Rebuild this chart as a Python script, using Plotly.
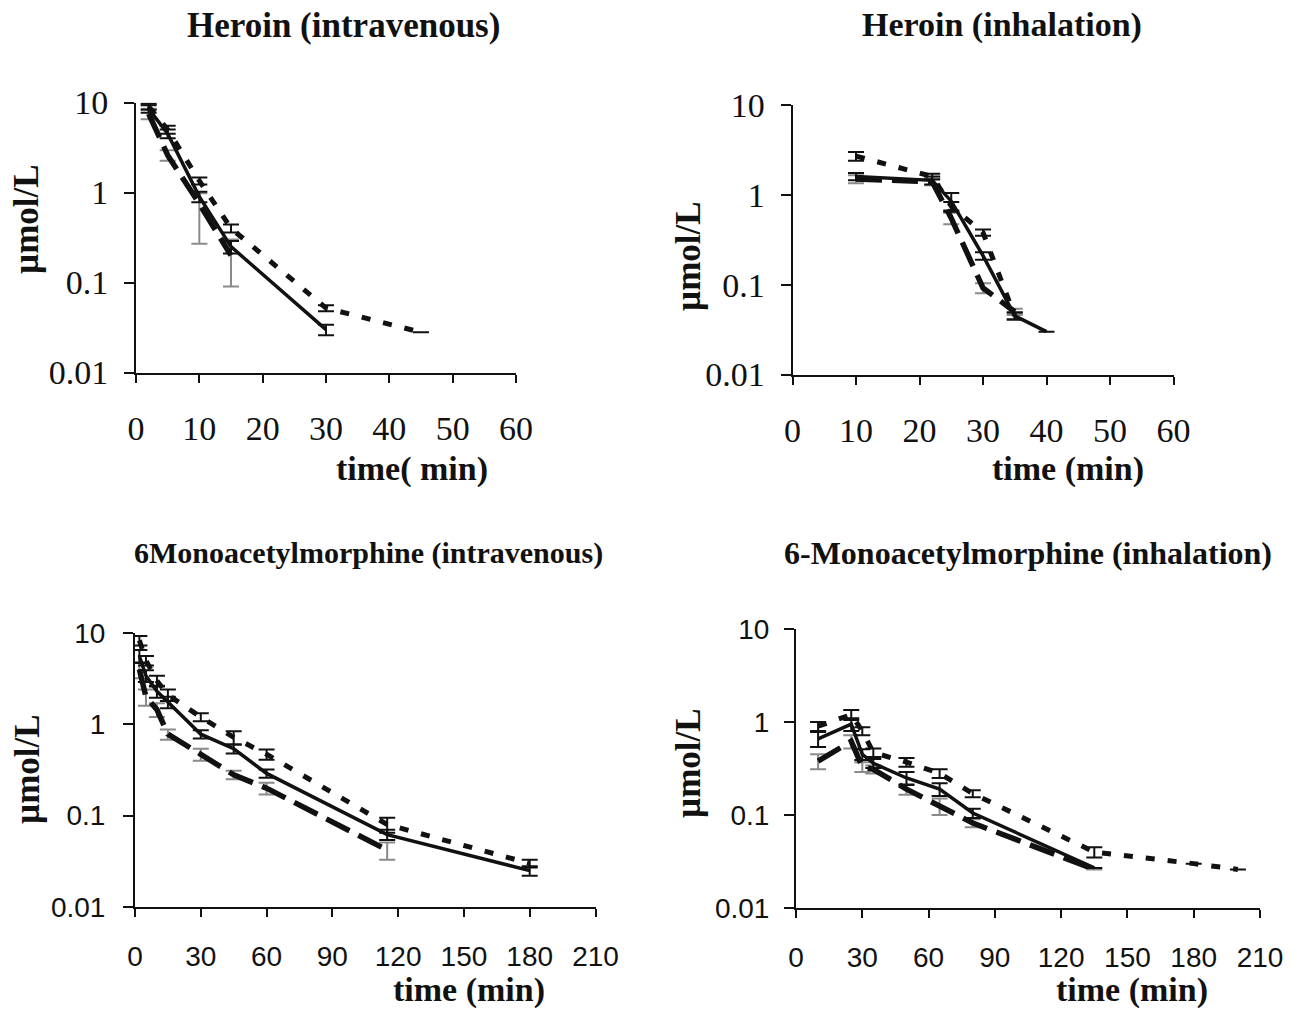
import plotly.graph_objects as go

W, H = 1299, 1013          # browser window == figure size

# ---------------- data ----------------
# Heroin (intravenous)
t_h_iv_solid = [2, 5, 10, 15, 30]
c_h_iv_solid = [8.5, 4.5, 0.9, 0.25, 0.030]
e_h_iv_solid = [0.8, 0.5, 0.12, 0.04, 0.004]

t_h_iv_dash = [2, 5, 10, 15]
c_h_iv_dash = [7.5, 2.6, 0.75, 0.20]
ep_h_iv_dash = [1.0, 0.35, 0.23, 0.10]
em_h_iv_dash = [1.0, 0.35, 0.48, 0.11]

t_h_iv_dot = [2, 5, 10, 15, 30, 45]
c_h_iv_dot = [9.0, 5.0, 1.35, 0.40, 0.052, 0.028]
e_h_iv_dot = [0.7, 0.5, 0.12, 0.04, 0.004, 0.0]

# Heroin (inhalation)
t_h_in_solid = [10, 22, 25, 30, 35, 40]
c_h_in_solid = [1.6, 1.45, 0.85, 0.21, 0.045, 0.030]
e_h_in_solid = [0.15, 0.15, 0.2, 0.02, 0.004, 0.0]

t_h_in_dash = [10, 22, 25, 30, 35]
c_h_in_dash = [1.5, 1.4, 0.55, 0.092, 0.050]
e_h_in_dash = [0.15, 0.12, 0.08, 0.012, 0.004]

t_h_in_dot = [10, 22, 25, 30, 35]
c_h_in_dot = [2.7, 1.6, 0.75, 0.38, 0.045]
e_h_in_dot = [0.3, 0.12, 0.08, 0.03, 0.004]

# 6-Monoacetylmorphine (intravenous)
t_m_iv_solid = [2, 5, 10, 15, 30, 45, 60, 115, 180]
c_m_iv_solid = [5.6, 3.4, 2.3, 1.75, 0.78, 0.54, 0.29, 0.062, 0.025]
e_m_iv_solid = [0.9, 0.5, 0.35, 0.25, 0.08, 0.06, 0.03, 0.008, 0.003]

t_m_iv_dash = [2, 5, 10, 15, 30, 45, 60, 115]
c_m_iv_dash = [4.0, 2.0, 1.45, 0.78, 0.47, 0.28, 0.20, 0.042]
e_m_iv_dash = [0.8, 0.4, 0.25, 0.1, 0.07, 0.03, 0.03, 0.009]

t_m_iv_dot = [2, 5, 10, 15, 30, 45, 60, 115, 180]
c_m_iv_dot = [8.3, 5.0, 3.0, 2.1, 1.2, 0.72, 0.47, 0.080, 0.030]
e_m_iv_dot = [1.0, 0.6, 0.4, 0.3, 0.12, 0.12, 0.06, 0.015, 0.003]

# 6-Monoacetylmorphine (inhalation)
t_m_in_solid = [10, 25, 30, 35, 50, 65, 80, 135]
c_m_in_solid = [0.66, 0.95, 0.45, 0.36, 0.25, 0.19, 0.105, 0.027]
e_m_in_solid = [0.12, 0.15, 0.06, 0.04, 0.04, 0.03, 0.012, 0.0]

t_m_in_dash = [10, 25, 30, 35, 50, 65, 80, 135]
c_m_in_dash = [0.38, 0.62, 0.33, 0.31, 0.19, 0.125, 0.082, 0.026]
e_m_in_dash = [0.07, 0.1, 0.04, 0.03, 0.025, 0.025, 0.008, 0.0]

t_m_in_dot = [10, 25, 30, 35, 50, 65, 80, 135, 180, 200]
c_m_in_dot = [0.90, 1.20, 0.80, 0.47, 0.37, 0.28, 0.17, 0.040, 0.030, 0.026]
e_m_in_dot = [0.1, 0.15, 0.08, 0.05, 0.04, 0.03, 0.015, 0.005, 0.0, 0.0]

panel_titles = ["Heroin (intravenous)", "Heroin (inhalation)",
                "6Monoacetylmorphine (intravenous)", "6-Monoacetylmorphine (inhalation)"]
x_titles = ["time( min)", "time (min)", "time (min)", "time (min)"]
y_title = "µmol/L"
x_ticks_top = [0, 10, 20, 30, 40, 50, 60]
x_ticks_bot = [0, 30, 60, 90, 120, 150, 180, 210]
y_ticks = [0.01, 0.1, 1, 10]
y_tick_text = ["0.01", "0.1", "1", "10"]


def fx(px):
    return px / W


def fy(py):
    return 1 - py / H


# ---------------- layout geometry (screen pixels) ----------------
# (x0px, x1px, ybottom_px (0.01), ytop_px (10))
geom = [
    (136, 516, 372.5, 102.5),
    (792.5, 1173.5, 374.5, 105),
    (135, 595.5, 907, 633),
    (796, 1260, 908, 629),
]
xr = [[0, 60], [0, 60], [0, 210], [0, 210]]

fig = go.Figure()

BLACK = "#111111"
GRAY = "#8a8a8a"
SOLID_W, DASH_W, DOT_W = 3.5, 5.5, 5
LONGDASH = "26px,10px"
SHORTDOT = "9px,13px"


def add_series(k, t, c, ep, em=None, kind="solid"):
    ax = "" if k == 0 else str(k + 1)
    if kind == "solid":
        line = dict(color=BLACK, width=SOLID_W)
        ecol = BLACK
    elif kind == "dash":
        line = dict(color=BLACK, width=DASH_W, dash=LONGDASH)
        ecol = GRAY
    else:
        line = dict(color=BLACK, width=DOT_W, dash=SHORTDOT)
        ecol = BLACK
    err = dict(type="data", array=ep, color=ecol, thickness=2, width=8, visible=True)
    if em is not None:
        err["symmetric"] = False
        err["arrayminus"] = em
    fig.add_trace(go.Scatter(x=t, y=c, mode="lines", line=line, error_y=err,
                             xaxis="x" + ax, yaxis="y" + ax, showlegend=False,
                             name=kind))


add_series(0, t_h_iv_dash, c_h_iv_dash, ep_h_iv_dash, em_h_iv_dash, "dash")
add_series(0, t_h_iv_dot, c_h_iv_dot, e_h_iv_dot, None, "dot")
add_series(0, t_h_iv_solid, c_h_iv_solid, e_h_iv_solid, None, "solid")

add_series(1, t_h_in_dash, c_h_in_dash, e_h_in_dash, None, "dash")
add_series(1, t_h_in_dot, c_h_in_dot, e_h_in_dot, None, "dot")
add_series(1, t_h_in_solid, c_h_in_solid, e_h_in_solid, None, "solid")

add_series(2, t_m_iv_dash, c_m_iv_dash, e_m_iv_dash, None, "dash")
add_series(2, t_m_iv_dot, c_m_iv_dot, e_m_iv_dot, None, "dot")
add_series(2, t_m_iv_solid, c_m_iv_solid, e_m_iv_solid, None, "solid")

add_series(3, t_m_in_dash, c_m_in_dash, e_m_in_dash, None, "dash")
add_series(3, t_m_in_dot, c_m_in_dot, e_m_in_dot, None, "dot")
add_series(3, t_m_in_solid, c_m_in_solid, e_m_in_solid, None, "solid")

SERIF = "Liberation Serif"
SANS = "Liberation Sans"

layout = dict(width=W, height=H, template="none",
              margin=dict(l=0, r=0, t=0, b=0, pad=0, autoexpand=False),
              plot_bgcolor="white", paper_bgcolor="white", showlegend=False,
              hovermode=False)

ystandoff = [9, 9, 12, 9]
xstandoff = [17, 17, 15, 15]

for k in range(4):
    x0, x1, yb, yt = geom[k]
    ax = "" if k == 0 else str(k + 1)
    top = k < 2
    tfont = dict(family=SERIF if top else SANS, size=34 if top else 28, color=BLACK)
    xt = x_ticks_top if top else x_ticks_bot
    layout["xaxis" + ax] = dict(
        domain=[fx(x0), fx(x1)], range=xr[k], anchor="y" + ax, automargin=False,
        tickmode="array", tickvals=xt, ticktext=[str(v) for v in xt],
        ticks="outside", ticklen=8, tickwidth=2, tickcolor=BLACK,
        showline=True, linecolor=BLACK, linewidth=2, showgrid=False, zeroline=False,
        tickfont=tfont, ticklabelstandoff=xstandoff[k])
    layout["yaxis" + ax] = dict(
        domain=[fy(yb), fy(yt)], type="log", range=[-2, 1],
        anchor="x" + ax, automargin=False,
        tickmode="array", tickvals=y_ticks, ticktext=y_tick_text,
        ticks="outside", ticklen=10, tickwidth=2, tickcolor=BLACK,
        showline=True, linecolor=BLACK, linewidth=2, showgrid=False, zeroline=False,
        tickfont=tfont, ticklabelstandoff=ystandoff[k])

fig.update_layout(**layout)

# titles and axis titles as annotations (screen pixel placement)
title_pos = [(343, 25), (1002, 25), (368, 553), (1028, 553)]
title_size = [35, 34, 30, 32]
xtitle_pos = [(412, 469), (1068, 469), (469, 990), (1132, 990)]
ytitle_pos = [(27, 219), (688, 256), (27, 769), (688, 763)]

for k in range(4):
    tx, ty = title_pos[k]
    fig.add_annotation(x=fx(tx), y=fy(ty), xref="paper", yref="paper",
                       text="<b>%s</b>" % panel_titles[k], showarrow=False,
                       font=dict(family=SERIF, size=title_size[k], color=BLACK),
                       xanchor="center", yanchor="middle")
    tx, ty = xtitle_pos[k]
    fig.add_annotation(x=fx(tx), y=fy(ty), xref="paper", yref="paper",
                       text="<b>%s</b>" % x_titles[k], showarrow=False,
                       font=dict(family=SERIF, size=34, color=BLACK),
                       xanchor="center", yanchor="middle")
    tx, ty = ytitle_pos[k]
    fig.add_annotation(x=fx(tx), y=fy(ty), xref="paper", yref="paper",
                       text="<b>%s</b>" % y_title, showarrow=False, textangle=-90,
                       font=dict(family=SERIF, size=35, color=BLACK),
                       xanchor="center", yanchor="middle")

# remove the default page margin so the figure fills the window exactly
fig.write_html("out.html",
               config={"displayModeBar": False, "staticPlot": True},
               post_script="document.body.style.margin='0';document.body.style.overflow='hidden';")
